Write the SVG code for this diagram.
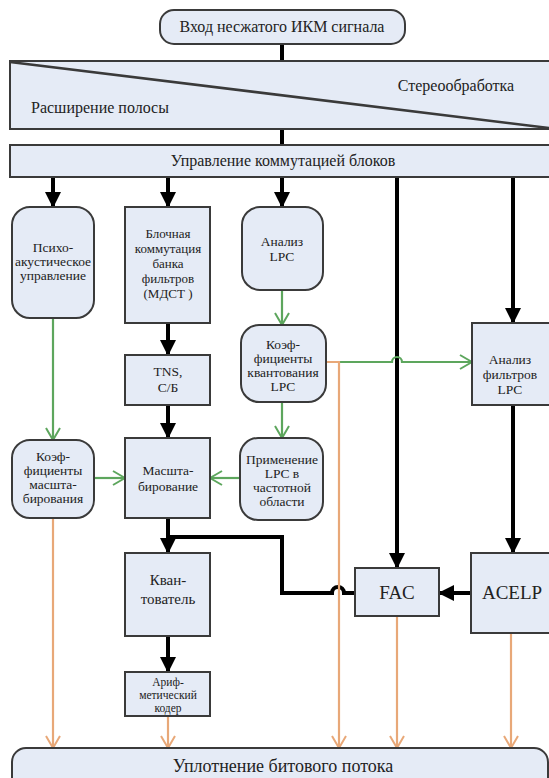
<svg xmlns="http://www.w3.org/2000/svg" width="549" height="778" viewBox="0 0 549 778">
<defs>
<style>
.box{fill:#e5ebf6;stroke:#3a3a3a;stroke-width:2}
.t{font-family:"Liberation Serif","Times New Roman",serif;font-size:13.5px;fill:#222;text-anchor:middle}
.tl{font-family:"Liberation Serif","Times New Roman",serif;font-size:16px;fill:#222}
.blk{fill:none;stroke:#000;stroke-width:4}
.grn{fill:none;stroke:#5da65d;stroke-width:2.2}
.org{fill:none;stroke:#e8a878;stroke-width:2.2}
</style>
<marker id="ab" markerUnits="userSpaceOnUse" markerWidth="16" markerHeight="16" viewBox="0 0 16 16" refX="15" refY="8" orient="auto"><path d="M0,0 L16,8 L0,16 z" fill="#000"/></marker>
<marker id="ag" markerUnits="userSpaceOnUse" markerWidth="14" markerHeight="16" viewBox="0 0 14 16" refX="13" refY="8" orient="auto"><path d="M1,1 L13,8 L1,15" fill="none" stroke="#5da65d" stroke-width="2"/></marker>
<marker id="ao" markerUnits="userSpaceOnUse" markerWidth="14" markerHeight="16" viewBox="0 0 14 16" refX="13" refY="8" orient="auto"><path d="M1,1 L13,8 L1,15" fill="none" stroke="#e8a878" stroke-width="2"/></marker>
</defs>
<rect width="549" height="778" fill="#fff"/>

<g id="connectors">
<path class="blk" d="M282,44 V61"/>
<path class="blk" d="M282,129 V145"/>
<path class="blk" d="M53,177 V207" marker-end="url(#ab)"/>
<path class="blk" d="M168,177 V207" marker-end="url(#ab)"/>
<path class="blk" d="M282,177 V207" marker-end="url(#ab)"/>
<path class="blk" d="M397,177 V568" marker-end="url(#ab)"/>
<path class="blk" d="M513,177 V323" marker-end="url(#ab)"/>
<path class="blk" d="M168,323 V355" marker-end="url(#ab)"/>
<path class="blk" d="M168,405 V438" marker-end="url(#ab)"/>
<path class="blk" d="M168,518 V553" marker-end="url(#ab)"/>
<path class="blk" d="M168,636 V672" marker-end="url(#ab)"/>
<path class="blk" d="M355,593 H344 A6,6 0 0 0 332,593 H282 V537 H168"/>
<path class="blk" d="M513,405 V553" marker-end="url(#ab)"/>
<path class="blk" d="M471,593 H439" marker-end="url(#ab)"/>
<path class="grn" d="M53,318 V440" marker-end="url(#ag)"/>
<path class="grn" d="M282,290 V325" marker-end="url(#ag)"/>
<path class="grn" d="M282,402 V438" marker-end="url(#ag)"/>
<path class="grn" d="M94,478 H125" marker-end="url(#ag)"/>
<path class="grn" d="M240,478 H210" marker-end="url(#ag)"/>
<path class="grn" d="M339,362 H392 A5,5 0 0 1 402,362 H472" marker-end="url(#ag)"/>
<path class="org" d="M326,362 H339 V748" marker-end="url(#ao)"/>
<path class="org" d="M53,518 V748" marker-end="url(#ao)"/>
<path class="org" d="M168,716 V748" marker-end="url(#ao)"/>
<path class="org" d="M397,616 V748" marker-end="url(#ao)"/>
<path class="org" d="M511,633 V748" marker-end="url(#ao)"/>
</g>

<g id="input">
<rect class="box" x="160" y="10" width="245" height="34" rx="14"/>
<text class="tl" x="282" y="32" text-anchor="middle">Вход несжатого ИКМ сигнала</text>
</g>
<g id="stereo-bw">
<rect class="box" x="10" y="61" width="560" height="68"/>
<path d="M10,62 L549,128" stroke="#3a3a3a" stroke-width="2.5" fill="none"/>
<text class="tl" x="456" y="91" text-anchor="middle">Стереообработка</text>
<text class="tl" x="31" y="113">Расширение полосы</text>
</g>
<g id="block-switching">
<rect class="box" x="10" y="145" width="560" height="32"/>
<text class="tl" x="283" y="166" text-anchor="middle">Управление коммутацией блоков</text>
</g>
<g id="psycho">
<rect class="box" x="12" y="207" width="82" height="111" rx="18"/>
<text class="t"><tspan x="53" y="252">Психо-</tspan><tspan x="53" y="266">акустическое</tspan><tspan x="53" y="280">управление</tspan></text>
</g>
<g id="mdct">
<rect class="box" x="125" y="207" width="85" height="116"/>
<text class="t" style="font-size:13px"><tspan x="168" y="238">Блочная</tspan><tspan x="168" y="253">коммутация</tspan><tspan x="168" y="268">банка</tspan><tspan x="168" y="283">фильтров</tspan><tspan x="168" y="298">(МДСТ )</tspan></text>
</g>
<g id="lpc-analysis">
<rect class="box" x="242" y="207" width="81" height="83" rx="18"/>
<text class="t"><tspan x="282" y="246">Анализ</tspan><tspan x="282" y="261">LPC</tspan></text>
</g>
<g id="lpc-quant">
<rect class="box" x="241" y="325" width="85" height="77" rx="18"/>
<text class="t"><tspan x="283" y="349">Коэф-</tspan><tspan x="283" y="363">фициенты</tspan><tspan x="283" y="377">квантования</tspan><tspan x="283" y="391">LPC</tspan></text>
</g>
<g id="lpc-filter">
<rect class="box" x="472" y="323" width="90" height="82"/>
<text class="t"><tspan x="510" y="364">Анализ</tspan><tspan x="510" y="379">фильтров</tspan><tspan x="510" y="394">LPC</tspan></text>
</g>
<g id="tns">
<rect class="box" x="125" y="355" width="85" height="50"/>
<text class="t"><tspan x="168" y="376">TNS,</tspan><tspan x="168" y="392">С/Б</tspan></text>
</g>
<g id="scale-coef">
<rect class="box" x="12" y="440" width="82" height="78" rx="18"/>
<text class="t"><tspan x="53" y="461">Коэф-</tspan><tspan x="53" y="475">фициенты</tspan><tspan x="53" y="489">масшта-</tspan><tspan x="53" y="503">бирования</tspan></text>
</g>
<g id="scaling">
<rect class="box" x="125" y="438" width="85" height="80"/>
<text class="t"><tspan x="168" y="475">Масшта-</tspan><tspan x="168" y="491">бирование</tspan></text>
</g>
<g id="lpc-freq">
<rect class="box" x="240" y="438" width="83" height="82" rx="18"/>
<text class="t"><tspan x="282" y="464">Применение</tspan><tspan x="282" y="478">LPC в</tspan><tspan x="282" y="492">частотной</tspan><tspan x="282" y="506">области</tspan></text>
</g>
<g id="quantizer">
<rect class="box" x="125" y="553" width="85" height="83"/>
<text class="t" style="font-size:15px"><tspan x="168" y="585">Кван-</tspan><tspan x="168" y="604">тователь</tspan></text>
</g>
<g id="arith">
<rect class="box" x="125" y="672" width="85" height="44"/>
<text class="t" style="font-size:11.5px"><tspan x="168" y="686">Ариф-</tspan><tspan x="168" y="699">метический</tspan><tspan x="168" y="712">кодер</tspan></text>
</g>
<g id="fac">
<rect class="box" x="355" y="568" width="84" height="48"/>
<text class="t" style="font-size:19px" x="397" y="599">FAC</text>
</g>
<g id="acelp">
<rect class="box" x="471" y="553" width="90" height="80"/>
<text class="t" style="font-size:19px" x="512" y="599">ACELP</text>
</g>
<g id="bitstream">
<rect class="box" x="12" y="748" width="536" height="50" rx="14"/>
<text class="t" style="font-size:18px" x="283" y="772">Уплотнение битового потока</text>
</g>
</svg>
